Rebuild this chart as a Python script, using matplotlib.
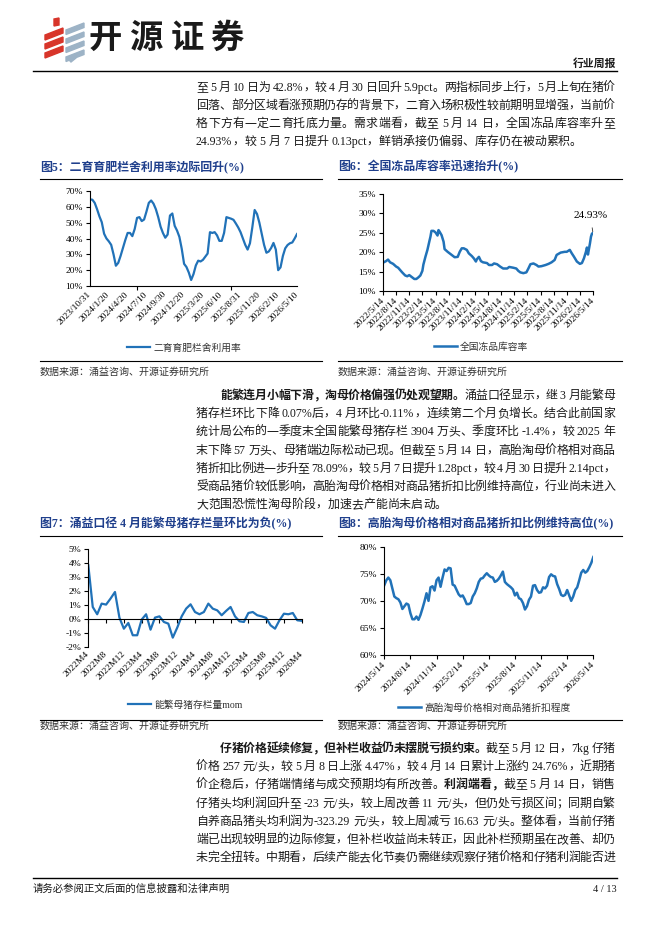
import matplotlib
matplotlib.use('Agg')
import matplotlib.pyplot as plt
from matplotlib.lines import Line2D
from matplotlib.patches import Polygon

W, H = 662, 936
plt.rcParams['font.family'] = ['Liberation Serif', 'Noto Sans CJK SC']
plt.rcParams['axes.linewidth'] = 0.8

LINE_BLUE = '#2172b8'
TITLE_BLUE = '#1f3f8c'
TXT = '#1a1a1a'

# ---------------- data ----------------
# fig5: 二育育肥栏舍利用率 (%), 10-day samples
util_labels = ['2023/10/31', '2024/1/20', '2024/4/20', '2024/7/10', '2024/9/30', '2024/12/20',
               '2025/3/20', '2025/6/10', '2025/8/31', '2025/11/20', '2026/2/10', '2026/5/10']
util_vals = [64.7, 64.5, 62.5, 58.5, 54.0, 50.3, 43.0, 40.0, 38.2, 36.0,
             30.0, 22.8, 24.6, 29.0, 34.0, 39.0, 43.5, 43.5, 41.5, 46.0,
             53.0, 53.5, 51.0, 52.0, 57.0, 62.5, 64.0, 62.0, 58.5, 53.5,
             47.5, 43.5, 40.5, 42.5, 54.5, 55.8, 48.0, 45.0, 41.0, 33.5,
             24.0, 22.0, 18.5, 13.8, 17.5, 23.0, 26.0, 25.5, 26.5, 28.5,
             30.5, 44.0, 43.5, 44.0, 42.0, 38.5, 38.5, 43.5, 53.5, 53.0,
             52.5, 51.8, 49.5, 47.0, 44.0, 40.0, 36.0, 33.0, 37.0, 47.0,
             58.0, 55.5, 50.0, 43.0, 36.0, 31.0, 31.8, 34.0, 37.2, 33.0,
             20.0, 21.8, 29.0, 33.8, 35.9, 37.0, 37.5, 40.0, 42.8]

# fig6: 全国冻品库容率 (%), weeks since 2022/5/14
cold_labels = ['2022/5/14', '2022/8/14', '2022/11/14', '2023/2/14', '2023/5/14', '2023/8/14',
               '2023/11/14', '2024/2/14', '2024/5/14', '2024/8/14', '2024/11/14', '2025/2/14',
               '2025/5/14', '2025/8/14', '2025/11/14', '2026/2/14', '2026/5/14']
cold_week = [0, 3, 5, 7, 10, 13, 15, 17, 19, 22, 24, 26, 28, 31, 33, 35, 37, 39, 40, 42,
             44, 46, 47, 48, 50, 52, 54, 55, 56, 58, 60, 61, 64, 66, 69, 71, 74, 76, 78, 80,
             83, 85, 88, 90, 92, 93, 95, 97, 99, 103, 105, 108, 110, 113, 116, 119, 123, 125,
             129, 132, 134, 136, 139, 142, 144, 146, 149, 152, 154, 157, 161, 164, 167, 170,
             172, 176, 180, 182, 185, 187, 189, 192, 195, 197, 199, 201, 202, 203, 205, 206,
             207, 208]
cold_vals = [17.3, 17.7, 18.1, 17.4, 17.0, 16.3, 16.0, 15.4, 14.8, 14.0, 13.8, 14.1, 13.7,
             13.1, 13.1, 13.5, 14.0, 15.2, 16.8, 18.8, 20.6, 22.9, 24.0, 25.5, 25.5, 25.1,
             24.3, 25.7, 25.3, 24.4, 22.7, 20.8, 20.1, 19.7, 19.1, 18.7, 18.8, 20.1, 21.0,
             21.0, 20.6, 19.7, 19.0, 18.4, 17.6, 18.2, 18.8, 17.7, 17.4, 17.2, 16.7, 16.7,
             17.1, 16.9, 16.3, 15.8, 15.8, 16.2, 16.0, 15.8, 15.2, 14.8, 14.6, 14.8, 15.8,
             16.9, 17.1, 16.7, 16.3, 16.4, 16.7, 17.0, 17.4, 18.0, 19.3, 19.9, 20.1, 20.1,
             20.6, 19.7, 18.9, 17.6, 17.0, 17.2, 18.4, 20.1, 21.2, 19.4, 22.3, 24.0, 24.8,
             24.93]

# fig7: 能繁母猪存栏量mom (%), monthly 2022M4-2026M4
sow_labels = ['2022M4', '2022M8', '2022M12', '2023M4', '2023M8', '2023M12', '2024M4',
              '2024M8', '2024M12', '2025M4', '2025M8', '2025M12', '2026M4']
sow_mom = [3.86, 0.88, 0.36, 1.12, 1.05, 1.48, 1.95, 0.12, -0.67, -0.26, -1.14, -1.14,
           -0.02, 0.36, -0.74, 0.12, 0.21, -0.19, -0.31, -1.31, -0.60, 0.21, 0.76, 1.07,
           0.52, 0.36, 0.52, 1.12, 0.76, 0.64, 0.29, 0.60, 0.88, 0.21, -0.14, -0.19,
           0.45, 0.52, 0.29, 0.21, 0.10, -0.43, -0.67, -0.07, 0.40, 0.36, 0.45, -0.07, -0.11]

# fig8: 高胎淘母价格相对商品猪折扣程度 (%), weekly from 2024/5/14
disc_labels = ['2024/5/14', '2024/8/14', '2024/11/14', '2025/2/14', '2025/5/14',
               '2025/8/14', '2025/11/14', '2026/2/14', '2026/5/14']
disc_vals = [72.9, 73.8, 74.3, 73.8, 72.3, 70.8, 70.5, 70.3, 69.7, 68.5,
             69.0, 69.5, 69.3, 67.7, 66.6, 66.6, 67.1, 66.5, 67.4, 68.6,
             69.9, 71.4, 70.0, 72.5, 72.7, 71.9, 73.8, 74.3, 72.6, 74.3,
             75.8, 75.5, 76.1, 76.0, 73.0, 72.8, 72.0, 71.2, 70.8, 71.0,
             70.3, 69.4, 69.4, 69.6, 70.8, 71.4, 72.3, 73.5, 74.1, 74.2,
             74.7, 75.1, 74.7, 74.4, 74.3, 73.5, 73.7, 74.1, 74.7, 75.4,
             73.5, 73.1, 72.8, 72.5, 72.1, 71.0, 71.5, 70.5, 70.3, 69.6,
             68.4, 69.0, 70.2, 70.8, 72.8, 72.9, 72.0, 71.5, 71.6, 72.5,
             72.3, 72.8, 74.4, 74.9, 74.6, 74.5, 73.1, 72.2, 71.1, 70.9,
             71.1, 72.0, 71.0, 70.0, 70.8, 72.0, 72.5, 73.8, 75.2, 75.7,
             75.2, 75.5, 76.2, 77.0, 78.09]

para1 = [
    [('至 5 月 10 日为 42.8%，较 4 月 30 日回升 5.9pct。两指标同步上行，5 月上旬在猪价', 0)],
    [('回落、部分区域看涨预期仍存的背景下，二育入场积极性较前期明显增强，当前价', 0)],
    [('格下方有一定二育托底力量。需求端看，截至 5 月 14 日，全国冻品库容率升至', 0)],
    [('24.93%，较 5 月 7 日提升 0.13pct，鲜销承接仍偏弱、库存仍在被动累积。', 0)],
]
para2 = [
    [('能繁连月小幅下滑，淘母价格偏强仍处观望期。', 1), ('涌益口径显示，继 3 月能繁母', 0)],
    [('猪存栏环比下降 0.07%后，4 月环比-0.11%，连续第二个月负增长。结合此前国家', 0)],
    [('统计局公布的一季度末全国能繁母猪存栏 3904 万头、季度环比 -1.4%，较 2025 年', 0)],
    [('末下降 57 万头、母猪端边际松动已现。但截至 5 月 14 日，高胎淘母价格相对商品', 0)],
    [('猪折扣比例进一步升至 78.09%，较 5 月 7 日提升 1.28pct，较 4 月 30 日提升 2.14pct，', 0)],
    [('受商品猪价较低影响，高胎淘母价格相对商品猪折扣比例维持高位，行业尚未进入', 0)],
    [('大范围恐慌性淘母阶段，加速去产能尚未启动。', 0)],
]
para3 = [
    [('仔猪价格延续修复，但补栏收益仍未摆脱亏损约束。', 1), ('截至 5 月 12 日，7kg 仔猪', 0)],
    [('价格 257 元/头，较 5 月 8 日上涨 4.47%，较 4 月 14 日累计上涨约 24.76%，近期猪', 0)],
    [('价企稳后，仔猪端情绪与成交预期均有所改善。', 0), ('利润端看，', 1), ('截至 5 月 14 日，销售', 0)],
    [('仔猪头均利润回升至 -23 元/头，较上周改善 11 元/头，但仍处亏损区间；同期自繁', 0)],
    [('自养商品猪头均利润为-323.29 元/头，较上周减亏 16.63 元/头。整体看，当前仔猪', 0)],
    [('端已出现较明显的边际修复，但补栏收益尚未转正，因此补栏预期虽在改善、却仍', 0)],
    [('未完全扭转。中期看，后续产能去化节奏仍需继续观察仔猪价格和仔猪利润能否进', 0)],
]

# ---------------- helpers ----------------
fig = plt.figure(figsize=(W / 100, H / 100), dpi=100)


def fx(x):
    return x / W


def fy(y):
    return 1 - y / H


def hline(y, x0, x1, lw=0.8):
    fig.add_artist(Line2D([fx(x0), fx(x1)], [fy(y), fy(y)], color='black', lw=lw,
                          transform=fig.transFigure))


def add_ax(l, r, t, b):
    return fig.add_axes([fx(l), fy(b), (r - l) / W, (b - t) / H])


# Times (Liberation Serif) advance widths in em
TIMES = {'.': 0.25, '%': 0.833, '/': 0.278, '-': 0.333, ' ': 0.25,
         'p': 0.5, 'c': 0.444, 't': 0.278, 'k': 0.5, 'g': 0.5}


def is_cjk(c):
    return ord(c) >= 0x2E80


def tokenize(segs):
    toks = []
    for text, bold in segs:
        run = ''
        for c in text:
            if is_cjk(c) or c == ' ':
                if run:
                    toks.append((run, bold, sum(TIMES.get(ch, 0.5) for ch in run)))
                    run = ''
                toks.append((c, bold, 1.0 if is_cjk(c) else 0.25))
            else:
                run += c
        if run:
            toks.append((run, bold, sum(TIMES.get(ch, 0.5) for ch in run)))
    return toks


def text_line(x0, x1, yc, segs, justify=True, size=8.6):
    em = size / 72 * 100
    toks = tokenize(segs)
    natural = sum(w for _, _, w in toks) * em
    gap = (x1 - x0 - natural) / (len(toks) - 1) if justify and len(toks) > 1 else 0
    x = x0
    for t, bold, w in toks:
        if t != ' ':
            fig.text(fx(x), fy(yc + 4), t, fontsize=size, color=TXT, ha='left', va='baseline',
                     fontweight='bold' if bold else 'light')
        x += w * em + gap


def paragraph(lines, ys, first_indent, last_justify=False):
    for i, (segs, y) in enumerate(zip(lines, ys)):
        x0 = 196 + (24 if (i == 0 and first_indent) else 0)
        just = last_justify or i < len(lines) - 1
        text_line(x0, 615, y, segs, justify=just)


def style_axes(ax):
    for s in ('top', 'right'):
        ax.spines[s].set_visible(False)
    ax.tick_params(axis='both', labelsize=6.8, colors='black', width=0.8)
    ax.tick_params(axis='y', length=3, direction='out', pad=2)


def legend(ax, line, label, cx, cy):
    ax.legend([line], [label], loc='center', bbox_to_anchor=(fx(cx), fy(cy)),
              bbox_transform=fig.transFigure, frameon=False, fontsize=7,
              handlelength=2.4, handletextpad=0.3, borderpad=0, borderaxespad=0,
              labelcolor='#333333')


def chart_frame(x0, x1, ty, title, ly, src_y):
    fig.text(fx(x0), fy(ty), title, fontsize=8.6, fontweight='bold', color=TITLE_BLUE,
             va='center', ha='left')
    hline(ty + 11.5, x0, x1)
    hline(ly, x0, x1)
    fig.text(fx(x0), fy(src_y), '数据来源：涌益咨询、开源证券研究所', fontsize=7.2,
             color='#333333', va='center', ha='left', fontweight='light')


# ---------------- header ----------------
icon_red = '#d8352a'
icon_grey = '#9db3c6'


def icon_piece(pts, color):
    fig.add_artist(Polygon([(fx(x), fy(y)) for x, y in pts], closed=True,
                           transform=fig.transFigure, color=color))


icon_piece([(54, 19), (59, 18), (59, 25), (54, 26)], icon_red)
for yy in (28, 37, 46):
    icon_piece([(45, yy + 7), (63, yy), (63, yy + 5), (45, yy + 12)], icon_red)
for yy in (23, 32, 41, 50):
    icon_piece([(66, yy + 7), (84, yy), (84, yy + 4.5), (66, yy + 11.5)], icon_grey)
icon_piece([(69, 60), (74, 56), (76, 58), (71, 62)], icon_grey)
for ch, cx in zip('开源证券', (105, 146, 187, 227)):
    fig.text(fx(cx), fy(38), ch, fontsize=24, fontweight='bold', color='#1a1a1a',
             ha='center', va='center', family='Noto Sans CJK SC')

fig.text(fx(616), fy(64), '行业周报', fontsize=7.8, fontweight='bold', color=TXT,
         ha='right', va='center')
hline(71, 33, 617, lw=1.0)

paragraph(para1, [87, 105, 123, 141], first_indent=False)

# ---------------- fig5 ----------------
chart_frame(40, 322, 167, '图5：二育育肥栏舍利用率边际回升(%)', 361, 372)
ax5 = add_ax(90, 297, 191, 286)
style_axes(ax5)
l5, = ax5.plot(range(len(util_vals)), util_vals, color=LINE_BLUE, lw=1.6)
ax5.set_xlim(0, len(util_vals) - 1)
ax5.set_ylim(10, 70)
ax5.set_yticks(range(10, 71, 10))
ax5.set_yticklabels([f'{v}%' for v in range(10, 71, 10)])
ax5.set_xticks(range(0, len(util_vals), 8))
ax5.set_xticklabels(util_labels, rotation=45, ha='right', va='center', rotation_mode='anchor')
ax5.set_xticks(range(0, len(util_vals), 20), minor=True)
ax5.tick_params(axis='x', which='major', length=0, pad=5)
ax5.tick_params(axis='x', which='minor', length=3, width=0.8, direction='out')
legend(ax5, l5, '二育育肥栏舍利用率', 184, 348)

# ---------------- fig6 ----------------
chart_frame(338, 622, 167, '图6：全国冻品库容率迅速抬升(%)', 361, 372)
ax6 = add_ax(383, 593, 194, 291)
style_axes(ax6)
l6, = ax6.plot(cold_week, cold_vals, color=LINE_BLUE, lw=1.8)
ax6.set_xlim(0, 208)
ax6.set_ylim(10, 35)
ax6.set_yticks(range(10, 36, 5))
ax6.set_yticklabels([f'{v}%' for v in range(10, 36, 5)])
ax6.set_xticks(range(0, 209, 13))
ax6.set_xticklabels(cold_labels, rotation=45, ha='right', va='center', rotation_mode='anchor')
ax6.tick_params(axis='x', length=3, direction='out', pad=3)
ax6.annotate(f'{cold_vals[-1]:.2f}%', xy=(cold_week[-1], cold_vals[-1]), xytext=(-2, 13),
             textcoords='offset points', ha='center', va='center', fontsize=8,
             arrowprops=dict(arrowstyle='-', color='#333333', lw=0.6, shrinkA=4, shrinkB=1))
legend(ax6, l6, '全国冻品库容率', 481, 347)

paragraph(para2, [395, 413, 431, 450, 468, 486, 504], first_indent=True)

# ---------------- fig7 ----------------
chart_frame(40, 322, 524, '图7：涌益口径 4 月能繁母猪存栏量环比为负(%)', 720, 726)
ax7 = add_ax(88.3, 301.7, 549.3, 647.3)
style_axes(ax7)
l7, = ax7.plot(range(len(sow_mom)), sow_mom, color=LINE_BLUE, lw=1.6)
ax7.set_xlim(0, len(sow_mom) - 1)
ax7.set_ylim(-2, 5)
ax7.set_yticks(range(-2, 6))
ax7.set_yticklabels([f'{v}%' for v in range(-2, 6)])
ax7.spines['bottom'].set_position(('data', 0))
ax7.set_xticks(range(0, len(sow_mom), 4))
ax7.set_xticklabels(sow_labels, rotation=45, ha='right', va='center', rotation_mode='anchor')
ax7.tick_params(axis='x', length=3, direction='out', pad=21)
legend(ax7, l7, '能繁母猪存栏量mom', 185, 705)

# ---------------- fig8 ----------------
chart_frame(338, 622, 524, '图8：高胎淘母价格相对商品猪折扣比例维持高位(%)', 720, 726)
ax8 = add_ax(384.3, 593.3, 546.7, 655)
style_axes(ax8)
l8, = ax8.plot(range(len(disc_vals)), disc_vals, color=LINE_BLUE, lw=1.8)
ax8.set_xlim(0, len(disc_vals) - 1)
ax8.set_ylim(60, 80)
ax8.set_yticks(range(60, 81, 5))
ax8.set_yticklabels([f'{v}%' for v in range(60, 81, 5)])
ax8.set_xticks(range(0, len(disc_vals), 13))
ax8.set_xticklabels(disc_labels, rotation=45, ha='right', va='center', rotation_mode='anchor')
ax8.tick_params(axis='x', length=3, direction='out', pad=3)
legend(ax8, l8, '高胎淘母价格相对商品猪折扣程度', 484, 708)

paragraph(para3, [748, 766, 784, 803, 821, 839, 857], first_indent=True, last_justify=True)

# ---------------- footer ----------------
hline(878, 33, 617, lw=1.0)
fig.text(fx(33), fy(889), '请务必参阅正文后面的信息披露和法律声明', fontsize=7.5, color=TXT,
         ha='left', va='center', fontweight='light')
fig.text(fx(617), fy(889), '4 / 13', fontsize=7.5, color=TXT, ha='right', va='center')

fig.savefig('out.png', dpi=100)
